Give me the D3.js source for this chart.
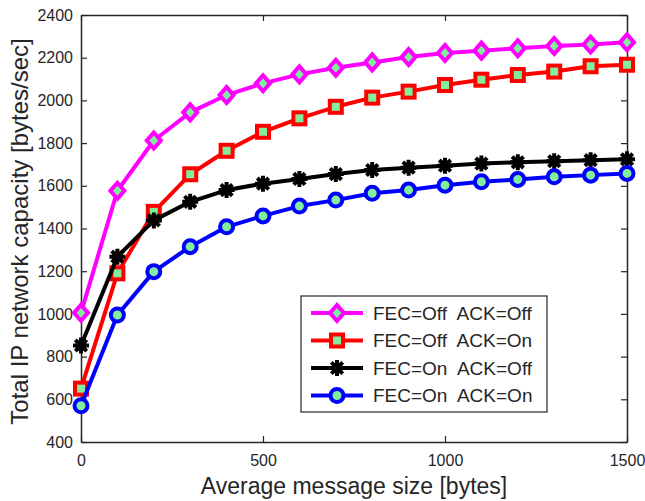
<!DOCTYPE html>
<html>
<head>
<meta charset="utf-8">
<script src="https://cdn.jsdelivr.net/npm/d3@7"></script>
<style>
  body { margin: 0; background: #fff; }
  text { font-family: "Liberation Sans", Arial, sans-serif; fill: #262626; }
</style>
</head>
<body>
<div id="chart"></div>
<script>
// message sizes (bytes)
var sizes = [0, 100, 200, 300, 400, 500, 600, 700, 800, 900, 1000, 1100, 1200, 1300, 1400, 1500];
var offOff = [1005, 1577, 1812, 1944, 2025, 2080, 2122, 2153, 2178, 2203, 2222, 2233, 2244, 2255, 2262, 2272];
var offOn = [650, 1190, 1478, 1654, 1764, 1853, 1916, 1970, 2013, 2041, 2072, 2097, 2119, 2135, 2160, 2167];
var onOff = [852, 1268, 1438, 1525, 1580, 1610, 1632, 1655, 1674, 1685, 1694, 1704, 1710, 1715, 1720, 1724];
var onOn = [570, 995, 1198, 1315, 1408, 1459, 1505, 1533, 1565, 1580, 1603, 1619, 1630, 1642, 1650, 1658];
var labels = ["FEC=Off  ACK=Off", "FEC=Off  ACK=On", "FEC=On  ACK=Off", "FEC=On  ACK=On"];
var xTicks = [0, 500, 1000, 1500];
var yTicks = [400, 600, 800, 1000, 1200, 1400, 1600, 1800, 2000, 2200, 2400];

var series = [
  { name: labels[0], values: offOff, color: "#ff00ff", marker: "diamond" },
  { name: labels[1], values: offOn, color: "#ff0000", marker: "square" },
  { name: labels[2], values: onOff, color: "#000000", marker: "star" },
  { name: labels[3], values: onOn, color: "#0000ff", marker: "circle" }
];

var W = 645, H = 501;
var margin = { top: 15, right: 18, bottom: 59, left: 81 };
var width = W - margin.left - margin.right;
var height = H - margin.top - margin.bottom;
var fillGreen = "#80ee9a";
var axisColor = "#262626";

var svg = d3.select("#chart").append("svg")
  .attr("width", W).attr("height", H);
var g = svg.append("g")
  .attr("transform", "translate(" + margin.left + "," + margin.top + ")");

var x = d3.scaleLinear().domain([0, 1500]).range([0, width]);
var y = d3.scaleLinear().domain([400, 2400]).range([height, 0]);
var fmt = d3.format("d");

// box with inward ticks on all four sides
function styleAxis(sel) {
  sel.select(".domain").attr("stroke", axisColor).attr("stroke-width", 1.5);
  sel.selectAll(".tick line").attr("stroke", axisColor).attr("stroke-width", 1.2);
}
g.append("g").attr("transform", "translate(0," + height + ")")
  .call(d3.axisBottom(x).tickValues(xTicks).tickFormat(fmt).tickSizeInner(-6).tickSizeOuter(0).tickPadding(13))
  .call(styleAxis)
  .call(function(s) { s.selectAll("text").attr("font-size", 16).attr("fill", axisColor); });
g.append("g")
  .call(d3.axisTop(x).tickValues(xTicks).tickSizeInner(-6).tickSizeOuter(0).tickFormat(""))
  .call(styleAxis);
g.append("g")
  .call(d3.axisLeft(y).tickValues(yTicks).tickFormat(fmt).tickSizeInner(-6).tickSizeOuter(0).tickPadding(8))
  .call(styleAxis)
  .call(function(s) { s.selectAll("text").attr("font-size", 16).attr("fill", axisColor); });
g.append("g").attr("transform", "translate(" + width + ",0)")
  .call(d3.axisRight(y).tickValues(yTicks).tickSizeInner(-6).tickSizeOuter(0).tickFormat(""))
  .call(styleAxis);

// axis labels
g.append("text")
  .attr("x", width / 2).attr("y", height + 52)
  .attr("text-anchor", "middle").attr("font-size", 23)
  .text("Average message size [bytes]");
g.append("text")
  .attr("transform", "rotate(-90)")
  .attr("x", -height / 2 - 3).attr("y", -53)
  .attr("text-anchor", "middle").attr("font-size", 24)
  .text("Total IP network capacity [bytes/sec]");

function drawMarker(sel, s) {
  if (s.marker === "diamond") {
    sel.append("path").attr("d", "M0,-8L7,0L0,8L-7,0Z")
      .attr("fill", fillGreen).attr("stroke", s.color).attr("stroke-width", 4).attr("stroke-linejoin", "miter");
  } else if (s.marker === "square") {
    sel.append("rect").attr("x", -6).attr("y", -6).attr("width", 12).attr("height", 12)
      .attr("fill", fillGreen).attr("stroke", s.color).attr("stroke-width", 4);
  } else if (s.marker === "circle") {
    sel.append("circle").attr("r", 6.5)
      .attr("fill", fillGreen).attr("stroke", s.color).attr("stroke-width", 4);
  } else {
    var p = "M-8,0L8,0M0,-8L0,8M-5.7,-5.7L5.7,5.7M-5.7,5.7L5.7,-5.7";
    sel.append("path").attr("d", p).attr("stroke", s.color).attr("stroke-width", 4);
    sel.append("circle").attr("r", 5.5).attr("fill", s.color);
  }
}

var line = d3.line()
  .x(function(d, i) { return x(sizes[i]); })
  .y(function(d) { return y(d); });

series.forEach(function(s) {
  g.append("path").datum(s.values)
    .attr("d", line)
    .attr("fill", "none")
    .attr("stroke", s.color)
    .attr("stroke-width", 4)
    .attr("stroke-linejoin", "round");
  g.selectAll(null).data(s.values).enter().append("g")
    .attr("transform", function(d, i) { return "translate(" + x(sizes[i]) + "," + y(d) + ")"; })
    .each(function() { drawMarker(d3.select(this), s); });
});

// legend
var lg = svg.append("g").attr("transform", "translate(301,296)");
lg.append("rect").attr("width", 246).attr("height", 116)
  .attr("fill", "#fff").attr("stroke", axisColor).attr("stroke-width", 1.2);
series.forEach(function(s, i) {
  var yy = 17 + i * 27.5;
  lg.append("line").attr("x1", 10).attr("x2", 62).attr("y1", yy).attr("y2", yy)
    .attr("stroke", s.color).attr("stroke-width", 4);
  var m = lg.append("g").attr("transform", "translate(36," + yy + ")");
  drawMarker(m, s);
  lg.append("text").attr("x", 72).attr("y", yy).attr("dy", "0.35em")
    .attr("font-size", 19).attr("fill", "#000").style("white-space", "pre")
    .attr("xml:space", "preserve")
    .text(s.name);
});
</script>
</body>
</html>
